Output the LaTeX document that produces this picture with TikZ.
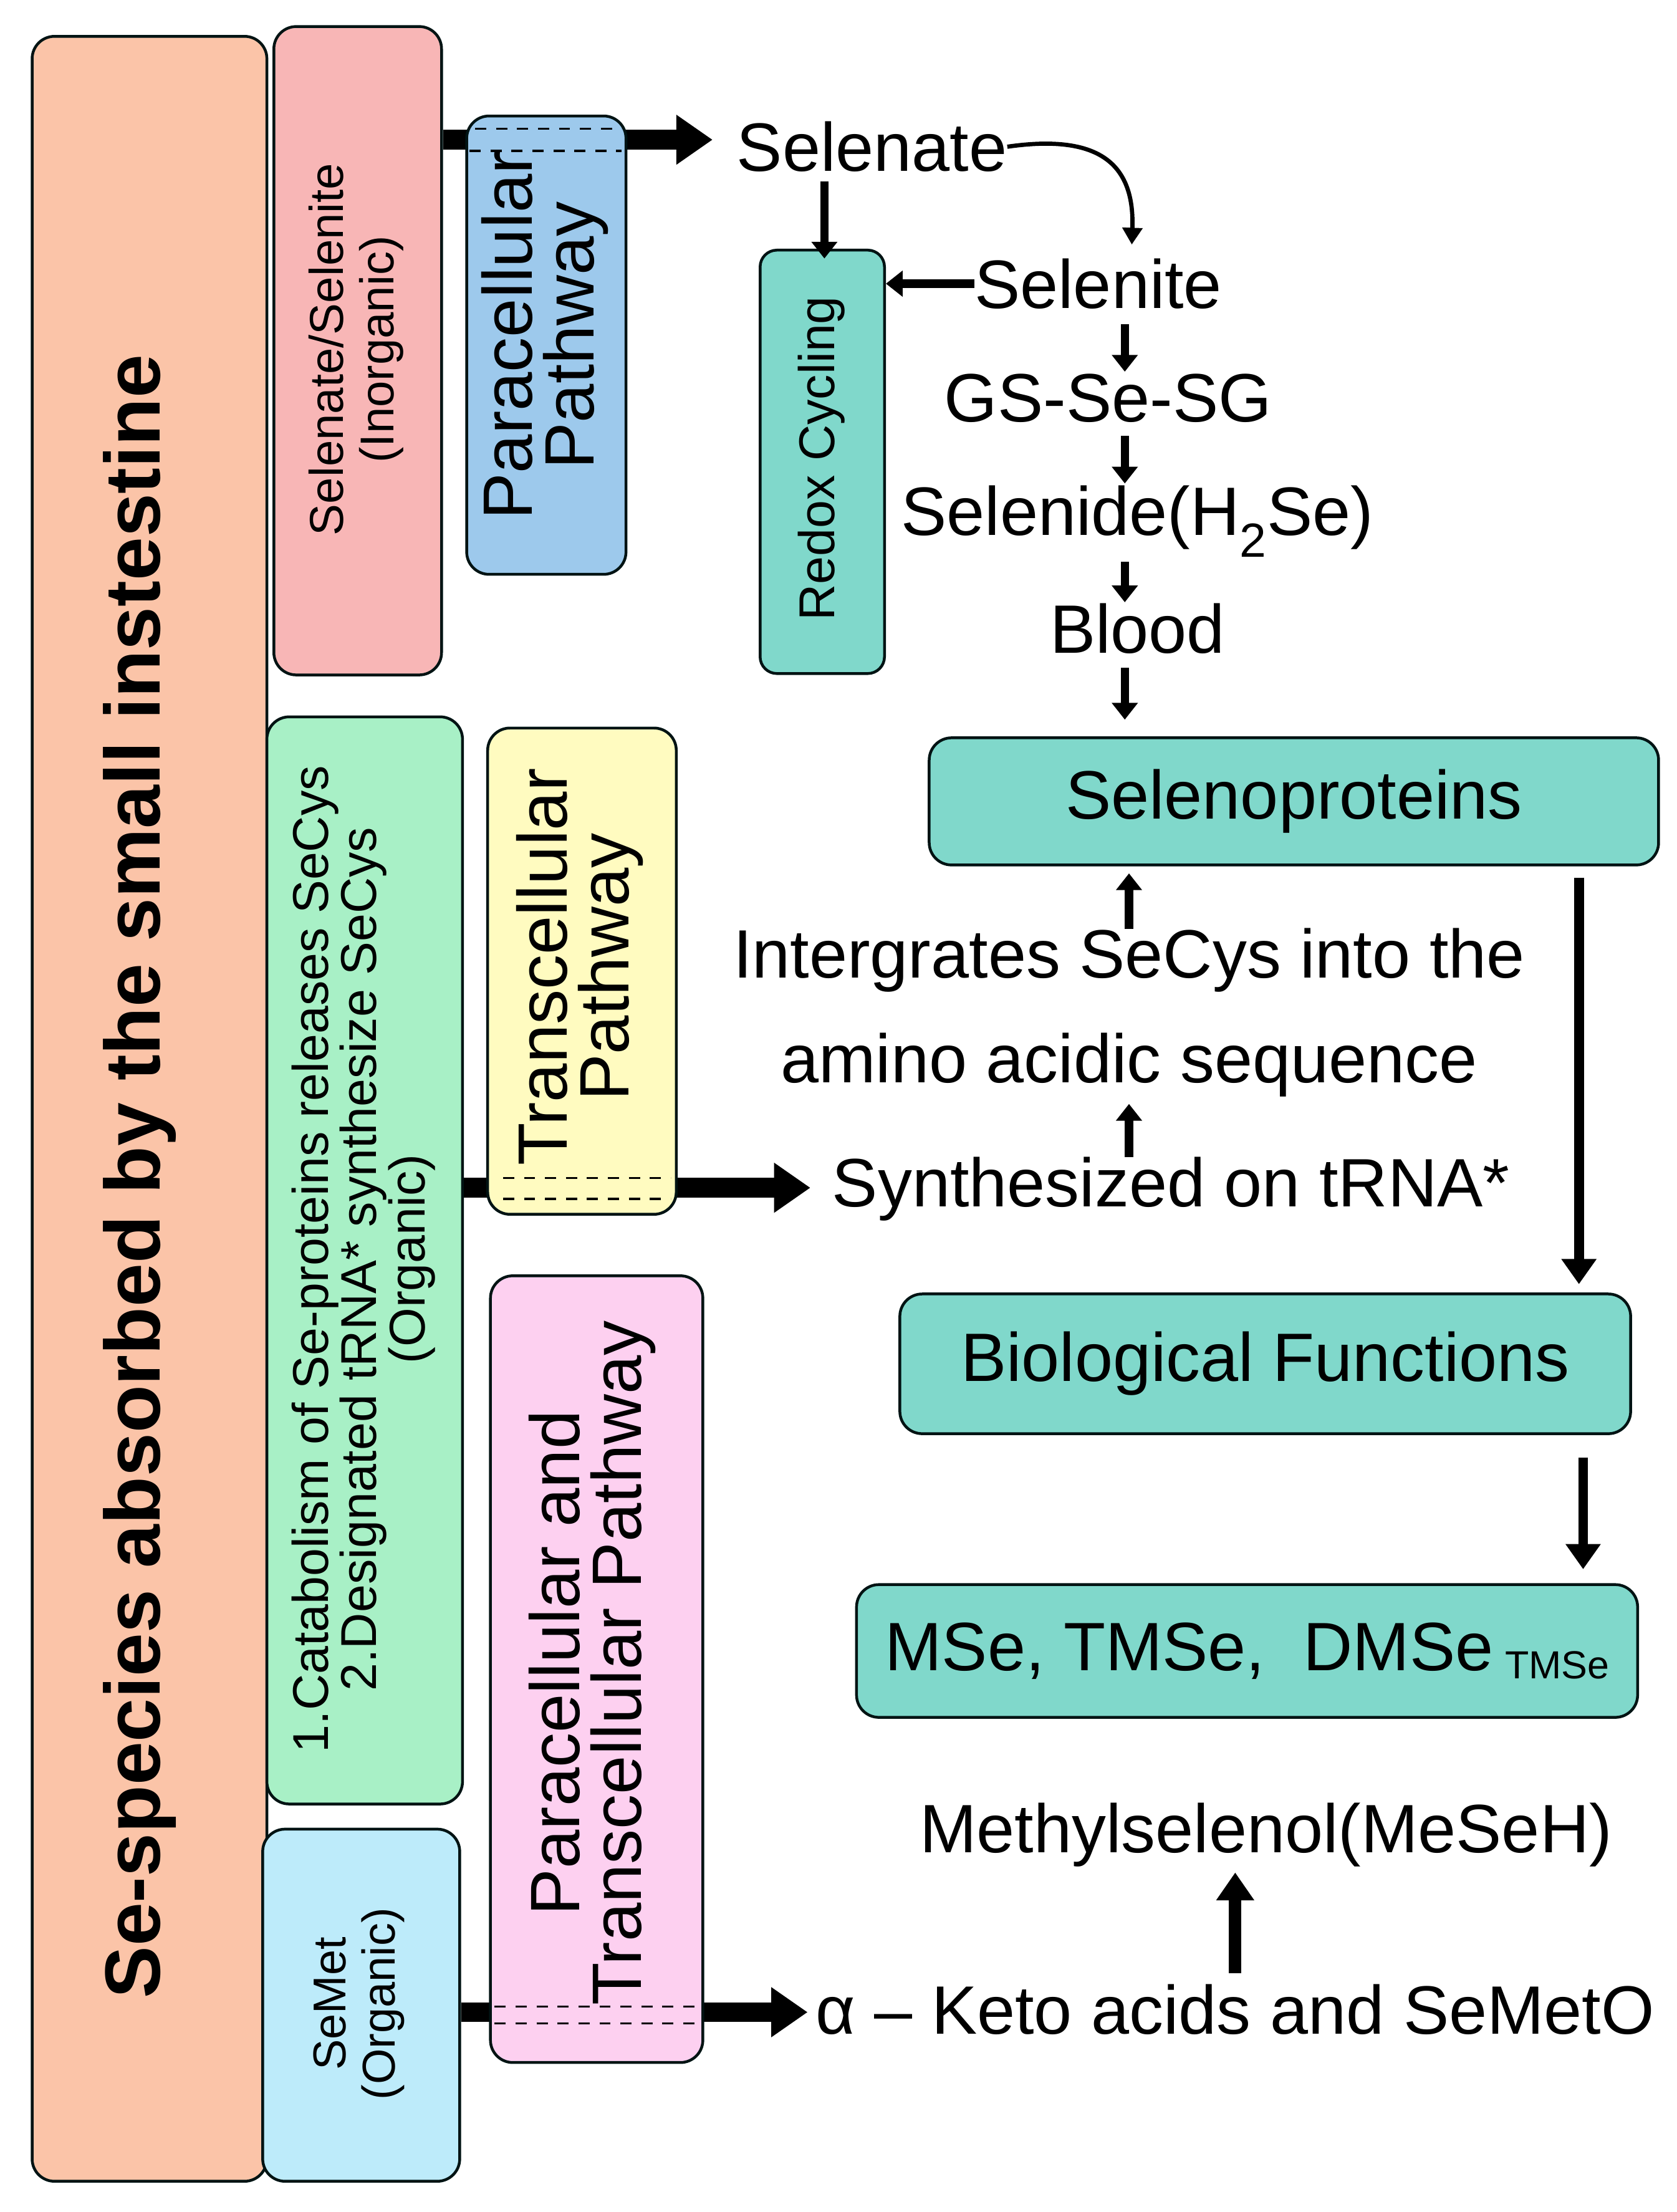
\documentclass[tikz,border=0pt]{standalone}
\usepackage{fontspec}
\setmainfont{Liberation Sans}
\usetikzlibrary{arrows.meta}
\begin{document}
\begin{tikzpicture}[x=1pt,y=-1pt,
 box/.style={draw=black!85!teal,line width=2pt,rounded corners=16pt},
 tb/.style={box,fill=teal1},
 lbl/.style={font=\fontsize{49}{52}\selectfont,inner sep=0},
 pw/.style={rotate=90,align=center,font=\fontsize{50}{44}\selectfont},
 big/.style={-{Triangle[length=26pt,width=34pt]},line width=14pt},
 sm/.style={-{Triangle[length=12pt,width=18pt]},line width=6pt},
 dsh/.style={dashed,line width=1.5pt,dash pattern=on 8pt off 7pt}]
\definecolor{teal1}{HTML}{80D8CB}
\useasboundingbox (0,0) rectangle (1200,1583);
% left boxes
\node[box,fill={rgb,255:red,251;green,196;blue,168},minimum width=168,minimum height=1535,anchor=north west] (big) at (22,25) {};
\node[rotate=90,font=\fontsize{56}{60}\selectfont\bfseries] (bigt) at (100,842) {Se-species absorbed by the small instestine};
\node[box,fill={rgb,255:red,248;green,182;blue,182},minimum width=120,minimum height=464,anchor=north west] (pink) at (195,18) {};
\node[rotate=90,align=center,font=\fontsize{34}{36}\selectfont] at (255,250) {Selenate/Selenite\\(Inorganic)};
\node[box,fill={rgb,255:red,168;green,240;blue,198},minimum width=140,minimum height=778,anchor=north west] (green) at (190,512) {};
\node[rotate=90,align=center,font=\fontsize{36}{31}\selectfont] at (260,901) {1.Catabolism of Se-proteins releases SeCys\\2.Designated tRNA* synthesize SeCys\\(Organic)};
\node[box,fill={rgb,255:red,189;green,235;blue,250},minimum width=141,minimum height=252,anchor=north west] (semet) at (187,1308) {};
\node[rotate=90,align=center,font=\fontsize{33}{35}\selectfont] at (257,1434) {SeMet\\(Organic)};
% arrows through pathways
\coordinate (a1) at (510,100);
\coordinate (a2) at (580,850);
\coordinate (a3) at (578,1440);
\draw[big] (pink.east|-a1) -- (a1);
\draw[big] (green.east|-a2) -- (a2);
\draw[big] (semet.east|-a3) -- (a3);
% pathway boxes
\node[box,fill={rgb,255:red,157;green,201;blue,236},minimum width=114,minimum height=328,anchor=north west] (blue) at (333,82) {};
\draw[dsh] (340,92) -- (445,92) (336,108) -- (445,108);
\node[pw] at (390,240) {Paracellular\\Pathway};
\node[box,fill={rgb,255:red,255;green,251;blue,192},minimum width=135,minimum height=348,anchor=north west] (yel) at (348,520) {};
\draw[dsh] (360,843) -- (480,843) (360,858) -- (480,858);
\node[pw] at (415,692) {Transcellular\\Pathway};
\node[box,fill={rgb,255:red,253;green,208;blue,240},minimum width=152,minimum height=563,anchor=north west] (pk2) at (350,912) {};
\draw[dsh] (354,1436) -- (500,1436) (354,1448) -- (500,1448);
\node[pw] at (424,1190) {Paracellular and\\Transcellular Pathway};
% redox
\node[tb,minimum width=89,minimum height=303,anchor=north west,rounded corners=12pt] (redox) at (543,178) {};
\node[rotate=90,font=\fontsize{36}{38}\selectfont] at (588,328) {Redox Cycling};
% texts
\node[lbl] (sel) at (624,105) {Selenate};
\node[lbl] (seli) at (786,203) {Selenite};
\node[lbl] (gs) at (793,285) {GS-Se-SG};
\node[lbl] (hse) at (814,373) {Selenide(H\textsubscript{2}Se)};
\node[lbl] (blood) at (814,450) {Blood};
\node[tb,minimum width=522,minimum height=91,anchor=north west] (selp) at (664,527) {};
\node[lbl] at (selp.center) {Selenoproteins};
\node[lbl] (int1) at (808,687) {Intergrates SeCys into the};
\node[lbl] (int2) at (808,762) {amino acidic sequence};
\node[lbl] (syn) at (838,851) {Synthesized on tRNA*};
\node[tb,minimum width=523,minimum height=100,anchor=north west] (bio) at (643,925) {};
\node[lbl] at (bio.center) {Biological Functions};
\node[tb,minimum width=559,minimum height=95,anchor=north west] (mse) at (612,1133) {};
\node[lbl] at (mse.center) {MSe, TMSe,\ \ DMSe\,{\fontsize{28}{30}\selectfont\raisebox{-6pt}{TMSe}}};
\node[lbl] (mes) at (906,1313) {Methylselenol(MeSeH)};
\node[lbl] (keto) at (884,1438) {α – Keto acids and SeMetO};
% connectors
\draw[-{Triangle[length=12pt,width=14pt]},line width=3pt] (sel.east) .. controls (790,95) and (812,120) .. (810,175);
\draw[sm] (590,130) -- (590,185);
\draw[sm] (seli.west) -- (redox.east|-seli);
\draw[sm] (805,232) -- (805,266);
\draw[sm] (805,312) -- (805,346);
\draw[sm] (805,402) -- (805,431);
\draw[sm] (805,478) -- (805,515);
\draw[sm] (808,665) -- (808,625);
\draw[sm] (808,828) -- (808,790);
\draw[-{Triangle[length=18pt,width=24pt]},line width=7pt] (1130,628) -- (1130,919);
\draw[-{Triangle[length=18pt,width=24pt]},line width=7pt] (1133,1043) -- (1133,1123);
\draw[-{Triangle[length=20pt,width=26pt]},line width=9pt] (884,1412) -- (884,1340);
\end{tikzpicture}
\end{document}
